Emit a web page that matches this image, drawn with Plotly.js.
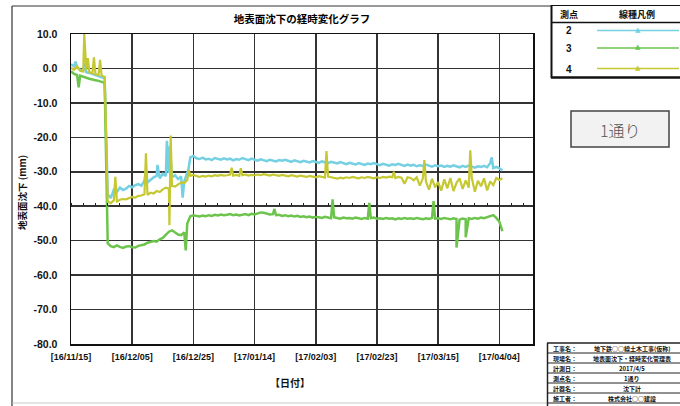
<!DOCTYPE html>
<html><head><meta charset="utf-8">
<script src="https://cdn.plot.ly/plotly-3.0.1.min.js"></script>
<style>html,body{margin:0;padding:0;background:#fff}#chart{width:680px;height:406px}</style>
</head><body><div id="chart"></div>
<script>
// ---- data ----
const startDate = [2016, 10, 15]; // 2016-11-15, daily readings
const pt2Daily = [1.2,0.6,0.3,-0.4,-0.6,-1.1,-1.3,-1.6,-1.9,-2.2,-2.4,-2.9,
 -36.5,-37.6,-35.2,-35.8,-34.6,-35.3,-34.9,-34.1,-34.5,
 -33.9,-33.6,-34.0,-32.6,-33.1,-32.2,-31.6,-31.2,-31.9,-30.6,
 -31.2,-30.3,-31.6,-31.0,-32.1,-31.4,-32.8,-30.2,
 -25.8,-25.4,-26.1,-26.3,-25.9,-26.4,-26.2,-26.6,-26.0,-26.3,-26.5,-26.1,
 -26.4,-26.2,-26.7,-26.3,-26.5,-26.0,-26.4,-26.6,-26.2,-26.5,
 -26.8,-26.4,-26.6,-26.9,-26.5,-26.7,-27.0,-26.6,-26.8,-26.5,
 -26.9,-27.1,-26.7,-27.0,-27.2,-26.8,-27.1,-27.3,-26.9,-27.2,
 -27.4,-27.0,-27.3,-27.5,-27.1,-27.4,-27.6,-27.2,-27.5,-27.8,
 -27.4,-27.6,-27.9,-27.5,-27.7,-28.0,-27.6,-27.8,-27.5,-27.9,
 -28.1,-27.7,-27.9,-28.2,-27.8,-28.0,-27.7,-28.1,-28.3,-27.9,
 -28.2,-28.0,-28.4,-28.1,-28.3,-27.9,-28.2,-28.5,-28.1,-28.4,
 -28.2,-28.6,-28.3,-28.5,-28.1,-28.4,-28.7,-28.3,-28.6,-28.2,
 -28.5,-28.8,-28.4,-28.6,-28.3,-28.7,-27.5,-28.9,-28.6,-29.0,-29.6];
const pt3Daily = [-0.8,-1.6,-1.9,-2.1,-2.5,-2.7,-3.0,-3.1,-3.4,-3.6,-3.9,-4.2,
 -50.8,-51.6,-51.9,-51.4,-51.8,-52.1,-51.7,-51.6,-51.9,-52.0,-51.5,-51.3,-51.1,-50.6,
 -50.4,-50.1,-50.3,-49.6,-49.2,-48.3,-47.4,-47.0,-47.6,-48.2,-48.4,-47.6,-45.0,
 -42.9,-42.6,-42.8,-43.0,-42.7,-42.9,-42.6,-42.8,-42.5,-42.7,-42.4,-42.6,
 -42.5,-42.3,-42.6,-42.4,-42.7,-42.5,-42.3,-42.6,-42.2,-42.4,
 -42.0,-41.8,-41.9,-42.2,-42.4,-42.3,-42.6,-42.5,-42.8,-42.6,
 -42.9,-42.7,-43.0,-42.8,-43.1,-42.9,-43.2,-43.0,-43.3,-43.1,
 -43.2,-43.4,-43.1,-43.3,-43.5,-43.2,-43.4,-43.6,-43.3,-43.5,
 -43.4,-43.6,-43.3,-43.5,-43.7,-43.4,-43.6,-43.5,-43.3,-43.6,
 -43.5,-43.7,-43.4,-43.6,-43.5,-43.8,-43.5,-43.7,-43.4,-43.6,
 -43.5,-43.7,-43.4,-43.6,-43.8,-43.5,-43.7,-43.4,-43.6,-43.5,
 -43.7,-43.4,-43.6,-43.8,-43.5,-43.7,-43.9,-43.6,-43.8,-43.5,
 -43.7,-43.4,-43.6,-43.3,-43.5,-43.2,-42.8,-42.6,-43.4,-44.5,-47.2];
const pt4Daily = [0.2,-0.4,0.6,-0.7,-0.9,-0.4,-1.1,-1.4,-1.7,-1.9,-2.1,-2.4,
 -38.6,-39.1,-38.3,-38.6,-38.1,-37.9,-38.0,-37.6,-37.3,-37.5,-37.0,-36.9,-36.5,-36.7,
 -36.1,-36.3,-35.6,-35.9,-35.1,-34.6,-34.9,-34.1,-34.3,-33.6,-33.1,-33.3,-32.4,
 -31.2,-30.9,-31.3,-31.5,-31.2,-31.4,-31.1,-31.3,-31.0,-31.2,-30.9,-31.1,
 -31.0,-30.8,-31.1,-30.9,-31.2,-31.0,-30.8,-31.1,-30.9,-31.0,
 -30.8,-31.0,-30.7,-30.9,-31.1,-30.8,-31.0,-31.2,-30.9,-31.1,
 -31.3,-31.0,-31.2,-31.4,-31.1,-31.3,-31.5,-31.2,-31.4,-31.6,
 -31.3,-31.5,-31.7,-31.4,-31.6,-31.8,-32.0,-31.7,-31.9,-31.6,
 -31.8,-31.5,-31.7,-31.9,-31.6,-31.8,-31.5,-31.7,-31.9,-31.6,
 -31.8,-31.5,-31.7,-31.4,-31.6,-31.8,-31.5,-31.7,-33.5,-31.6,
 -31.8,-32.5,-31.6,-34.0,-31.9,-32.8,-35.2,-32.0,-34.5,-33.0,
 -35.5,-32.2,-34.8,-31.8,-35.6,-33.2,-31.9,-35.0,-32.5,-34.6,
 -31.8,-35.8,-32.6,-34.2,-31.9,-35.4,-32.8,-33.9,-31.8,-32.4,-31.9];
// intermediate (spike) readings
const pt2SpikeTimes = ['2016-11-16 12:00','2016-11-19 12:00','2016-12-09 12:00','2016-12-13 06:00','2016-12-16 08:00','2016-12-17 08:00','2016-12-21 12:00','2016-12-23 06:00','2017-04-01 12:00'];
const pt2SpikeVals  = [2.0, 1.5, -29.5, -28.0, -21.0, -22.5, -37.5, -30.0, -25.8];
const pt3SpikeTimes = ['2016-11-17 12:00','2016-12-22 12:00','2017-01-20 12:00','2017-02-08 12:00','2017-02-20 12:00','2017-03-13 12:00','2017-03-21 00:00','2017-03-24 00:00'];
const pt3SpikeVals  = [-5.5, -52.8, -40.8, -38.0, -39.0, -38.5, -52.0, -49.0];
const pt4SpikeTimes = ['2016-11-19 08:00','2016-11-20 12:00','2016-11-22 12:00','2016-11-24 12:00','2016-11-29 12:00','2016-12-09 12:00','2016-12-17 04:00','2016-12-17 14:00','2016-12-23 12:00','2017-01-06 12:00','2017-01-09 12:00','2017-02-06 12:00','2017-02-28 12:00','2017-03-10 12:00','2017-03-25 12:00'];
const pt4SpikeVals  = [10.0, 3.0, 3.2, 2.5, -31.5, -24.6, -45.5, -19.5, -29.5, -28.8, -29.0, -24.0, -30.0, -26.6, -23.8];

const pointNames = ['2','3','4'];
const colors = ['#74d0e2','#6cc44c','#c5c830'];
const yTickVals = [10,0,-10,-20,-30,-40,-50,-60,-70,-80];
const yTickText = ['10.0','0.0','-10.0','-20.0','-30.0','-40.0','-50.0','-60.0','-70.0','-80.0'];
const xTickVals = ['2016-11-15','2016-12-05','2016-12-25','2017-01-14','2017-02-03','2017-02-23','2017-03-15','2017-04-04'];
const xTickText = ['[16/11/15]','[16/12/05]','[16/12/25]','[17/01/14]','[17/02/03]','[17/02/23]','[17/03/15]','[17/04/04]'];
const infoLabels = ['工事名：','現場名：','計測日：','測点名：','計器名：','施工者：'];
const infoValues = ['地下鉄○○線土木工事(仮称)','地表面沈下・経時変化管理表','2017/4/5','1通り','沈下計','株式会社○○建設'];

// ---- build series ----
function parseT(s){const [d,t]=s.split(' ');const [Y,M,D]=d.split('-').map(Number);const [h,m]=t.split(':').map(Number);return Date.UTC(Y,M-1,D,h,m);}
function series(daily, sTimes, sVals){
  const t0 = Date.UTC(startDate[0],startDate[1],startDate[2]);
  const pts = daily.map((v,i)=>[t0+i*864e5, v]);
  sTimes.forEach((s,i)=>pts.push([parseT(s), sVals[i]]));
  pts.sort((a,b)=>a[0]-b[0]);
  return {x: pts.map(p=>new Date(p[0]).toISOString().replace('T',' ').slice(0,19)), y: pts.map(p=>p[1])};
}
const s2 = series(pt2Daily, pt2SpikeTimes, pt2SpikeVals);
const s3 = series(pt3Daily, pt3SpikeTimes, pt3SpikeVals);
const s4 = series(pt4Daily, pt4SpikeTimes, pt4SpikeVals);

const traces = [
  {x:s2.x, y:s2.y, type:'scatter', mode:'lines', name:pointNames[0], line:{color:colors[0], width:2.5}, xaxis:'x', yaxis:'y'},
  {x:s4.x, y:s4.y, type:'scatter', mode:'lines', name:pointNames[2], line:{color:colors[2], width:2.2}, xaxis:'x2', yaxis:'y'},
  {x:s3.x, y:s3.y, type:'scatter', mode:'lines', name:pointNames[1], line:{color:colors[1], width:2.5}, xaxis:'x', yaxis:'y'}
];

// pixel -> paper helpers (plot area 71..533 x 34..344)
const L=71, R=533, T=34, B=344;
const px = v => (v-L)/(R-L);
const py = v => (B-v)/(B-T);

const jp = 'Noto Sans CJK JP';
const shapes = [];
const ann = [];
function hline(x0,x1,y,w,c){shapes.push({type:'line',xref:'paper',yref:'paper',x0:px(x0),x1:px(x1),y0:py(y),y1:py(y),line:{color:c||'#222',width:w||1}});}
function vline(x,y0,y1,w,c){shapes.push({type:'line',xref:'paper',yref:'paper',x0:px(x),x1:px(x),y0:py(y0),y1:py(y1),line:{color:c||'#222',width:w||1}});}
function text(x,y,t,opt){ann.push(Object.assign({xref:'paper',yref:'paper',x:px(x),y:py(y),text:t,showarrow:false,xanchor:'center',yanchor:'middle',font:{family:jp,size:9,color:'#111',weight:'bold'}},opt||{}));}

// outer frame
hline(12,552,6,1,'#333');
vline(12,6,406,1.2,'#333');
hline(12,547,403,0.8,'#bbb');

// legend table
vline(551.5,5,78,2,'#111');
hline(551,682,5.5,1,'#111');
hline(551,682,22.5,1.5,'#111');
hline(551,682,77.5,2.5,'#111');
text(569,14,'測点',{font:{family:jp,size:9,color:'#111',weight:'bold'}});
text(637,14,'線種凡例',{font:{family:jp,size:9,color:'#111',weight:'bold'}});
const rowY=[30.5,48,68.5];
pointNames.forEach((n,i)=>{
  text(569,rowY[i]+0.5,n,{font:{family:'Liberation Sans',size:10,color:'#111',weight:'bold'}});
  hline(597,679,rowY[i],1.5,colors[i]);
  text(637.5,rowY[i]-1,'▲',{font:{family:'DejaVu Sans',size:7,color:colors[i]}});
});

// button
shapes.push({type:'rect',xref:'paper',yref:'paper',x0:px(571),x1:px(669),y0:py(111),y1:py(147),fillcolor:'#f2f2f2',line:{color:'#444',width:1.5}});
text(620,129.5,'1通り',{font:{family:jp,size:16,color:'#555',weight:300}});

// info table
const infoTop=343, rowH=10;
hline(547,682,infoTop,1.5,'#222');
vline(547.5,infoTop,406,1.5,'#222');
infoLabels.forEach((lab,i)=>{
  const yc = infoTop + rowH*i + rowH/2;
  hline(547,682,infoTop+rowH*(i+1),1,'#222');
  text(551,yc,lab,{xanchor:'left',font:{family:jp,size:6,color:'#111',weight:'bold'}});
  text(632,yc,infoValues[i],{font:{family:jp,size:6,color:'#111',weight:'bold'}});
});

// axis titles
text(22,193,'地表面沈下 (mm)',{textangle:-90,font:{family:jp,size:9.5,color:'#111',weight:'bold'}});
text(290,382,'【日付】',{font:{family:jp,size:10,color:'#111',weight:'bold'}});

const layout = {
  width:680, height:406,
  margin:{l:L, r:680-R, t:T, b:406-B, pad:0},
  paper_bgcolor:'#fff', plot_bgcolor:'#fff',
  showlegend:false,
  title:{text:'<b>地表面沈下の経時変化グラフ</b>', x:0.5, xref:'paper', y:1-19/406, yref:'container', yanchor:'middle', font:{family:jp, size:10.5, color:'#000'}},
  xaxis:{type:'date', range:['2016-11-15','2017-04-15'], tickvals:xTickVals, ticktext:xTickText, ticks:'', showgrid:true, gridcolor:'#333', gridwidth:1.5,
    showline:true, linecolor:'#111', linewidth:1.5, mirror:true, zeroline:false, tickangle:0, ticklabelstandoff:4,
    tickfont:{family:'Liberation Sans', size:9, color:'#111', weight:'bold'}, fixedrange:true},
  xaxis2:{type:'date', matches:'x', overlaying:'x', anchor:'free', position:0.4444, side:'top', showgrid:false, showline:false, zeroline:false,
    showticklabels:false, ticks:'outside', ticklen:3, tickwidth:1, tickcolor:'#222', tick0:'2016-11-15', dtick:4*864e5},
  yaxis:{range:[-80,10], tickvals:yTickVals, ticktext:yTickText, ticks:'', showgrid:true, gridcolor:'#333', gridwidth:1.5,
    showline:true, linecolor:'#111', linewidth:1.5, mirror:true, zeroline:false, ticklabelstandoff:10,
    tickfont:{family:'Liberation Sans', size:10.5, color:'#111', weight:'bold'}, fixedrange:true},
  shapes:shapes, annotations:ann
};
Plotly.newPlot('chart', traces, layout, {displayModeBar:false, staticPlot:true});
</script></body></html>
